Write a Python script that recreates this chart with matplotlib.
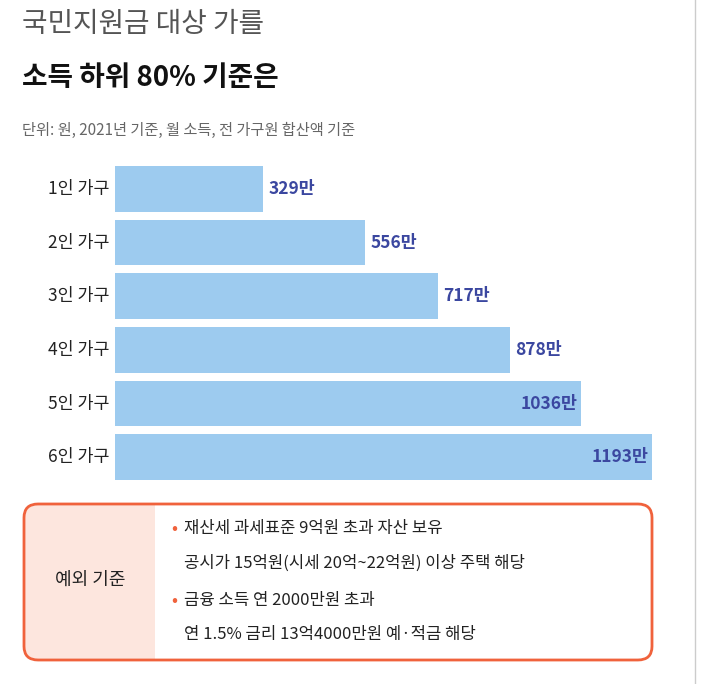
import matplotlib.pyplot as plt
from matplotlib.patches import FancyBboxPatch, Rectangle
from matplotlib.lines import Line2D

plt.rcParams['font.family'] = ['Noto Sans CJK KR', 'Noto Sans CJK JP', 'Noto Sans CJK SC', 'DejaVu Sans']

categories = ['1인 가구', '2인 가구', '3인 가구', '4인 가구', '5인 가구', '6인 가구']
values = [329, 556, 717, 878, 1036, 1193]
labels = ['329만', '556만', '717만', '878만', '1036만', '1193만']

W, H = 705, 684
fig = plt.figure(figsize=(W / 100, H / 100), dpi=100)

def fx(x): return x / W
def fy(y): return 1 - y / H

# titles
fig.text(fx(22), fy(24), '국민지원금 대상 가를', fontsize=20, color='#555555', va='center')
fig.text(fx(22), fy(78), '소득 하위 80% 기준은', fontsize=20, fontweight='bold', color='#111111', va='center')
fig.text(fx(22), fy(130), '단위: 원, 2021년 기준, 월 소득, 전 가구원 합산액 기준', fontsize=11, color='#666666', va='center')

# bars
top, bottom = 162, 484
ax = fig.add_axes([fx(115), fy(bottom), (652 - 115) / W, (bottom - top) / H])
y = list(range(len(values)))
ax.barh(y, values, height=0.85, color='#9dcbef')
ax.set_xlim(0, 1193)
ax.set_ylim(len(values) - 0.5, -0.5)
ax.axis('off')
for i, (v, lab, cat) in enumerate(zip(values, labels, categories)):
    if v > 1000:
        ax.text(v - 8, i, lab, ha='right', va='center', fontsize=12.5, fontweight='bold', color='#3b47a0')
    else:
        ax.text(v + 12, i, lab, ha='left', va='center', fontsize=12.5, fontweight='bold', color='#3b47a0')
    ax.text(-12, i, cat, ha='right', va='center', fontsize=12.5, color='#222222')

# exception box
x0, y0, x1, y1 = 24, 504, 652, 660
pink = FancyBboxPatch((fx(x0), fy(y1)), fx(155 - x0), (y1 - y0) / H,
                      boxstyle='round,pad=0,rounding_size=0.02', transform=fig.transFigure,
                      facecolor='#fde6de', edgecolor='none')
fig.add_artist(pink)
fig.add_artist(Rectangle((fx(120), fy(y1)), fx(35), (y1 - y0) / H,
                         transform=fig.transFigure, facecolor='#fde6de', edgecolor='none'))
box = FancyBboxPatch((fx(x0), fy(y1)), fx(x1 - x0), (y1 - y0) / H,
                     boxstyle='round,pad=0,rounding_size=0.02', transform=fig.transFigure,
                     facecolor='none', edgecolor='#f0623c', linewidth=2)
fig.add_artist(box)
fig.text(fx(90), fy(580), '예외 기준', fontsize=13, ha='center', va='center', color='#222222')

lines = [(529, True, '재산세 과세표준 9억원 초과 자산 보유'),
         (563, False, '공시가 15억원(시세 20억~22억원) 이상 주택 해당'),
         (601, True, '금융 소득 연 2000만원 초과'),
         (634, False, '연 1.5% 금리 13억4000만원 예·적금 해당')]
for yy, bullet, txt in lines:
    if bullet:
        fig.text(fx(174), fy(yy), '•', fontsize=13, color='#f0623c', ha='center', va='center')
    fig.text(fx(184), fy(yy), txt, fontsize=12, color='#222222', va='center')

# right border line
fig.add_artist(Line2D([fx(695), fx(695)], [0, 1], transform=fig.transFigure, color='#cccccc', linewidth=1))

fig.savefig('out.png', dpi=100, facecolor='white')
